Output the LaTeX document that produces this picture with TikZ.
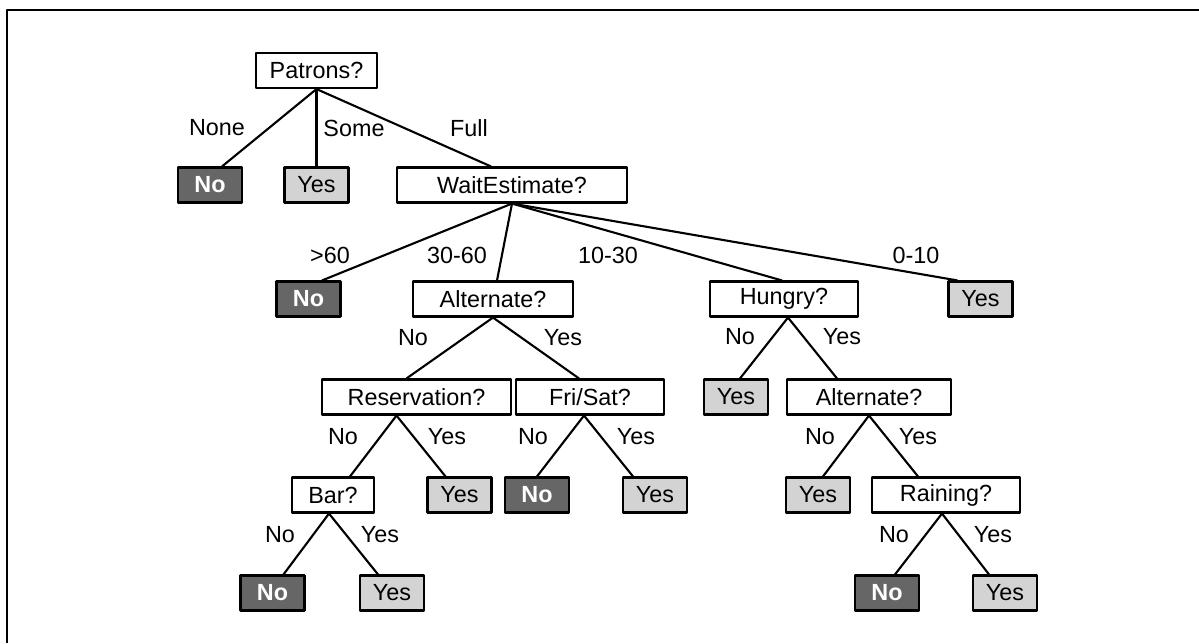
\documentclass[tikz,border=0pt]{standalone}
\usepackage{fontspec}
\setmainfont{Liberation Sans}
\usepackage{xcolor}
\definecolor{leafdark}{RGB}{102,102,102}
\definecolor{leaflight}{RGB}{211,211,211}

\begin{document}
\begin{tikzpicture}[x=0.02cm,y=-0.02cm,line join=round,
  attr/.style={draw,fill=white,line width=1.2pt,minimum height=0.7cm,inner sep=0pt,font=\fontsize{13.3}{16}\selectfont},
  yesleaf/.style={attr,fill=leaflight,minimum width=1.28cm},
  noleaf/.style={attr,fill=leafdark,text=white,minimum width=1.28cm,font=\fontsize{13.3}{16}\selectfont\bfseries},
  branch/.style={font=\fontsize{13.3}{16}\selectfont,inner sep=0pt},
  link/.style={line width=1.2pt}]
\useasboundingbox (0,0) rectangle (1199,643);
\draw[line width=1.4pt] (7,643) -- (7,10) -- (1199,10);
% root
\node[attr,minimum width=2.42cm] (patrons) at (316.5,70.5) {Patrons?};
\node[noleaf] (none) at (210,185) {No};
\node[yesleaf] (some) at (316.5,185) {Yes};
\node[attr,minimum width=4.6cm] (wait) at (512,185) {WaitEstimate?};
% wait estimate
\node[noleaf] (over60) at (308.5,299) {No};
\node[attr,minimum width=3.2cm] (alt) at (493,299) {Alternate?};
\node[attr,minimum width=2.96cm] (hungry) at (784,299) {Hungry?};
\node[yesleaf] (under10) at (980.5,299) {Yes};
% third row
\node[attr,minimum width=3.78cm] (reserv) at (416.5,397) {Reservation?};
\node[attr,minimum width=2.96cm] (frisat) at (590,397) {Fri/Sat?};
\node[yesleaf] (notHungry) at (736,397) {Yes};
\node[attr,minimum width=3.28cm] (alt2) at (869,397) {Alternate?};
% fourth row
\node[attr,minimum width=1.64cm] (bar) at (333,495) {Bar?};
\node[yesleaf] (reservYes) at (459.5,495) {Yes};
\node[noleaf] (frisatNo) at (537,495) {No};
\node[yesleaf] (frisatYes) at (655,495) {Yes};
\node[yesleaf] (alt2No) at (818,495) {Yes};
\node[attr,minimum width=2.96cm] (raining) at (946,495) {Raining?};
% bottom row
\node[noleaf] (barNo) at (272.5,593) {No};
\node[yesleaf] (barYes) at (392,593) {Yes};
\node[noleaf] (rainNo) at (887,593) {No};
\node[yesleaf] (rainYes) at (1005,593) {Yes};
% branches
\draw[link] (patrons.south) -- ([xshift=0.24cm]none.north);
\draw[link] (patrons.south) -- (some.north);
\draw[link] (patrons.south) -- ([xshift=-0.42cm]wait.north);
\draw[link] (wait.south) -- ([xshift=0.27cm]over60.north);
\draw[link] (wait.south) -- ([xshift=0.08cm]alt.north);
\draw[link] (wait.south) -- ([xshift=-0.04cm]hungry.north);
\draw[link] (wait.south) -- ([xshift=-0.46cm]under10.north);
\draw[link] (alt.south) -- ([xshift=-0.2cm]reserv.north);
\draw[link] (alt.south) -- ([xshift=-0.22cm]frisat.north);
\draw[link] ([xshift=0.08cm]hungry.south) -- ([xshift=0.08cm]notHungry.north);
\draw[link] ([xshift=0.08cm]hungry.south) -- ([xshift=-0.64cm]alt2.north);
\draw[link] ([xshift=-0.4cm]reserv.south) -- ([xshift=0.34cm]bar.north);
\draw[link] ([xshift=-0.4cm]reserv.south) -- ([xshift=-0.28cm]reservYes.north);
\draw[link] ([xshift=-0.12cm]frisat.south) -- (frisatNo.north);
\draw[link] ([xshift=-0.12cm]frisat.south) -- ([xshift=-0.44cm]frisatYes.north);
\draw[link] (alt2.south) -- ([xshift=0.1cm]alt2No.north);
\draw[link] (alt2.south) -- ([xshift=-0.56cm]raining.north);
\draw[link] ([xshift=-0.08cm]bar.south) -- ([xshift=0.22cm]barNo.north);
\draw[link] ([xshift=-0.08cm]bar.south) -- ([xshift=-0.28cm]barYes.north);
\draw[link] ([xshift=-0.08cm]raining.south) -- ([xshift=0.16cm]rainNo.north);
\draw[link] ([xshift=-0.08cm]raining.south) -- ([xshift=-0.32cm]rainYes.north);
% branch labels
\node[branch] (lNone) at (217,128) {None};
\node[branch] (lSome) at (354,128) {Some};
\node[branch] (lFull) at (469,128) {Full};
\node[branch] (lOver60) at (330,255) {>60};
\node[branch] (l3060) at (457,255) {30-60};
\node[branch] (l1030) at (608,255) {10-30};
\node[branch] (l010) at (916,255) {0-10};
\node[branch] (lAltNo) at (413,338) {No};
\node[branch] (lAltYes) at (563,338) {Yes};
\node[branch] (lHunNo) at (740,337) {No};
\node[branch] (lHunYes) at (842,337) {Yes};
\node[branch] (lResNo) at (343,437) {No};
\node[branch] (lResYes) at (447,437) {Yes};
\node[branch] (lFriNo) at (533,437) {No};
\node[branch] (lFriYes) at (636,437) {Yes};
\node[branch] (lAltTwoNo) at (820,437) {No};
\node[branch] (lAltTwoYes) at (918,437) {Yes};
\node[branch] (lBarNo) at (280,535) {No};
\node[branch] (lBarYes) at (380,535) {Yes};
\node[branch] (lRainNo) at (894,535) {No};
\node[branch] (lRainYes) at (993,535) {Yes};
\end{tikzpicture}
\end{document}
